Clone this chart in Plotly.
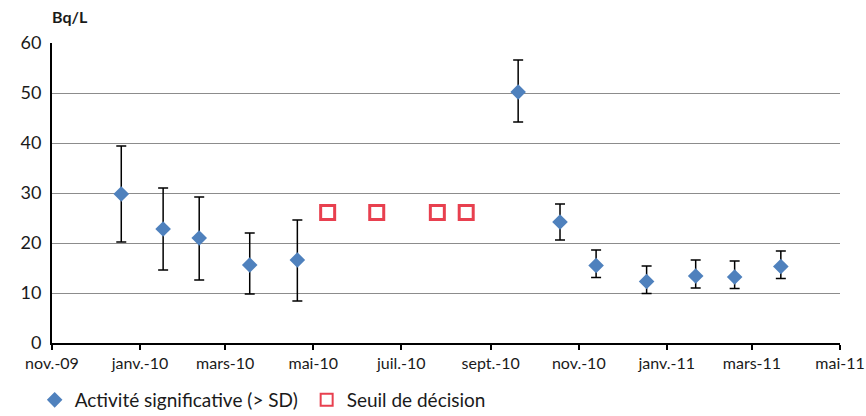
import plotly.graph_objects as go

# Data
act_dates = ["2009-12-19", "2010-01-17", "2010-02-11", "2010-03-18", "2010-04-20",
             "2010-09-20", "2010-10-19", "2010-11-13", "2010-12-18", "2011-01-21",
             "2011-02-17", "2011-03-21"]
act_values = [29.8, 22.8, 21.0, 15.6, 16.6, 50.2, 24.2, 15.5, 12.3, 13.4, 13.2, 15.3]
act_upper = [39.4, 31.0, 29.2, 22.0, 24.6, 56.6, 27.8, 18.6, 15.4, 16.6, 16.4, 18.4]
act_lower = [20.2, 14.6, 12.6, 9.8, 8.4, 44.2, 20.6, 13.1, 9.9, 11.0, 10.9, 12.9]

sd_dates = ["2010-05-11", "2010-06-14", "2010-07-26", "2010-08-15"]
sd_values = [26.1, 26.1, 26.1, 26.1]

tick_dates = ["2009-11-01", "2010-01-01", "2010-03-01", "2010-05-01", "2010-07-01",
              "2010-09-01", "2010-11-01", "2011-01-01", "2011-03-01", "2011-05-01"]
tick_labels = ["nov.-09", "janv.-10", "mars-10", "mai-10", "juil.-10", "sept.-10",
               "nov.-10", "janv.-11", "mars-11", "mai-11"]

err_plus = [u - v for u, v in zip(act_upper, act_values)]
err_minus = [v - l for v, l in zip(act_values, act_lower)]

FONT = "Lato"

fig = go.Figure()
fig.add_trace(go.Scatter(
    x=act_dates, y=act_values, mode="markers",
    name="Activité significative (> SD)",
    marker=dict(symbol="diamond", size=12, color="#4F81BD"),
    error_y=dict(type="data", symmetric=False, array=err_plus, arrayminus=err_minus,
                 color="#000000", thickness=1.5, width=5),
))
fig.add_trace(go.Scatter(
    x=sd_dates, y=sd_values, mode="markers",
    name="Seuil de décision",
    marker=dict(symbol="square-open", size=14, color="#E8404F", line=dict(width=3)),
))

fig.update_layout(
    width=866, height=416,
    margin=dict(l=52, r=26, t=43, b=73, autoexpand=False),
    plot_bgcolor="white", paper_bgcolor="white",
    font=dict(family=FONT, size=16, color="#1a1a1a"),
    title=dict(text="<b>Bq/L</b>", xref="paper", x=0, xanchor="left",
               yref="container", y=0.957, yanchor="middle",
               font=dict(family=FONT, size=16, color="#1a1a1a")),
    showlegend=True,
    legend=dict(orientation="h", x=-0.022, y=-0.19, yanchor="middle", xanchor="left",
                font=dict(size=19), itemwidth=30, entrywidth=227,
                itemsizing="constant"),
    xaxis=dict(
        type="date", range=["2009-11-01", "2011-05-01"],
        tickvals=tick_dates, ticktext=tick_labels,
        showgrid=False, showline=True, linecolor="#000000", linewidth=1.5,
        ticks="outside", ticklen=5, tickcolor="#000000", tickwidth=1.5,
        zeroline=False, tickfont=dict(size=16),
    ),
    yaxis=dict(
        range=[0, 60], tickvals=[0, 10, 20, 30, 40, 50, 60],
        showgrid=True, gridcolor="#8C8C8C", gridwidth=1,
        showline=True, linecolor="#000000", linewidth=2,
        ticks="", zeroline=False, ticklabelstandoff=5, tickfont=dict(size=18),
    ),
)

fig.write_html("out.html", config={"displayModeBar": False},
               post_script="document.body.style.margin='0px';document.body.style.padding='0px';")
